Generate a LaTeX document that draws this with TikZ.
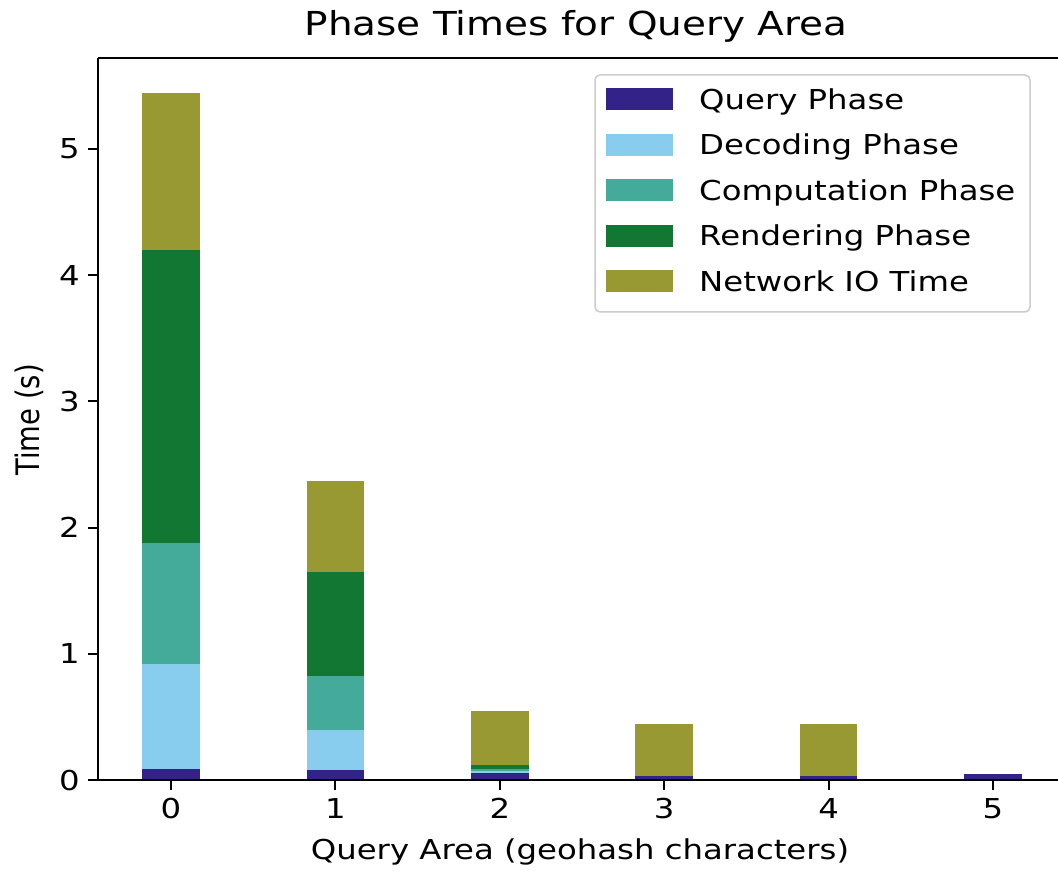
\documentclass[tikz,border=0pt]{standalone}
\usepackage{fontspec}
\setmainfont{DejaVu Sans}
\definecolor{cquery}{HTML}{332288}
\definecolor{cdecode}{HTML}{88CCEE}
\definecolor{ccomp}{HTML}{44AA99}
\definecolor{crender}{HTML}{117733}
\definecolor{cnet}{HTML}{999933}
\definecolor{legframe}{HTML}{CCCCCC}
% one bar segment: index, bottom value, top value, colour
\newcommand\barseg[4]{%
  \fill[#4] ({171+164.4*#1-28.75},{780-126.2*#2}) rectangle ({171+164.4*#1+28.75},{780-126.2*#3});}
\begin{document}
\begin{tikzpicture}[x=1pt,y=-1pt,
  lbl/.style={font=\fontsize{27.4}{32}\selectfont, inner sep=0pt, xscale=1.18, transform shape},
  ttl/.style={font=\fontsize{33}{38}\selectfont, inner sep=0pt, xscale=1.18, transform shape},
  spine/.style={line width=2pt, black},
  tickmark/.style={line width=2pt, black},
  patch/.style={inner sep=0pt, minimum width=67pt, minimum height=22pt}]
\useasboundingbox (0,0) rectangle (1058,874);
\fill[white] (0,0) rectangle (1058,874);

% stacked bars
\barseg{0}{0}{0.09}{cquery}
\barseg{0}{0.09}{0.92}{cdecode}
\barseg{0}{0.92}{1.88}{ccomp}
\barseg{0}{1.88}{4.20}{crender}
\barseg{0}{4.20}{5.44}{cnet}

\barseg{1}{0}{0.08}{cquery}
\barseg{1}{0.08}{0.40}{cdecode}
\barseg{1}{0.40}{0.825}{ccomp}
\barseg{1}{0.825}{1.65}{crender}
\barseg{1}{1.65}{2.37}{cnet}

\barseg{2}{0}{0.055}{cquery}
\barseg{2}{0.055}{0.075}{cdecode}
\barseg{2}{0.075}{0.085}{ccomp}
\barseg{2}{0.085}{0.12}{crender}
\barseg{2}{0.12}{0.55}{cnet}

\barseg{3}{0}{0.035}{cquery}
\barseg{3}{0.035}{0.445}{cnet}

\barseg{4}{0}{0.035}{cquery}
\barseg{4}{0.035}{0.445}{cnet}

\barseg{5}{0}{0.045}{cquery}

% axes frame (right spine lies beyond the page edge)
\draw[spine] (98,58) -- (1058,58);
\draw[spine] (98,58) -- (98,780);
\draw[spine] (97,780) -- (1058,780);

% y ticks and labels
\foreach \v in {0,...,5}{
  \draw[tickmark] (88,{780-126.2*\v}) -- (98,{780-126.2*\v});
  \node[lbl, anchor=base east] (ylab\v) at (80,{790-126.2*\v}) {\v};
}
% x ticks and labels
\foreach \i in {0,...,5}{
  \draw[tickmark] ({171+164.4*\i},780) -- ({171+164.4*\i},790);
  \node[lbl, anchor=base] (xlab\i) at ({171+164.4*\i},818) {\i};
}

% titles
\node[ttl, anchor=base] (title) at (576,36) {Phase Times for Query Area};
\node[lbl, anchor=base] (xtitle) at (580,859) {Query Area (geohash characters)};
\node[lbl, anchor=base, rotate=90] (ytitle) at (39,420) {Time (s)};

% legend
\draw[legframe, line width=1.5pt, rounded corners=5pt, fill=white, fill opacity=0.8]
  (595,75) rectangle (1030,312);
\foreach \k/\c/\t [count=\n from 0] in {q/cquery/Query Phase, d/cdecode/Decoding Phase, c/ccomp/Computation Phase, r/crender/Rendering Phase, n/cnet/Network IO Time}{
  \node[patch, fill=\c] (leg\k) at (639.5,{99.5+45.4*\n}) {};
  \node[lbl, anchor=base west] (legtext\k) at (699,{109.5+45.4*\n}) {\t};
}
\end{tikzpicture}
\end{document}
